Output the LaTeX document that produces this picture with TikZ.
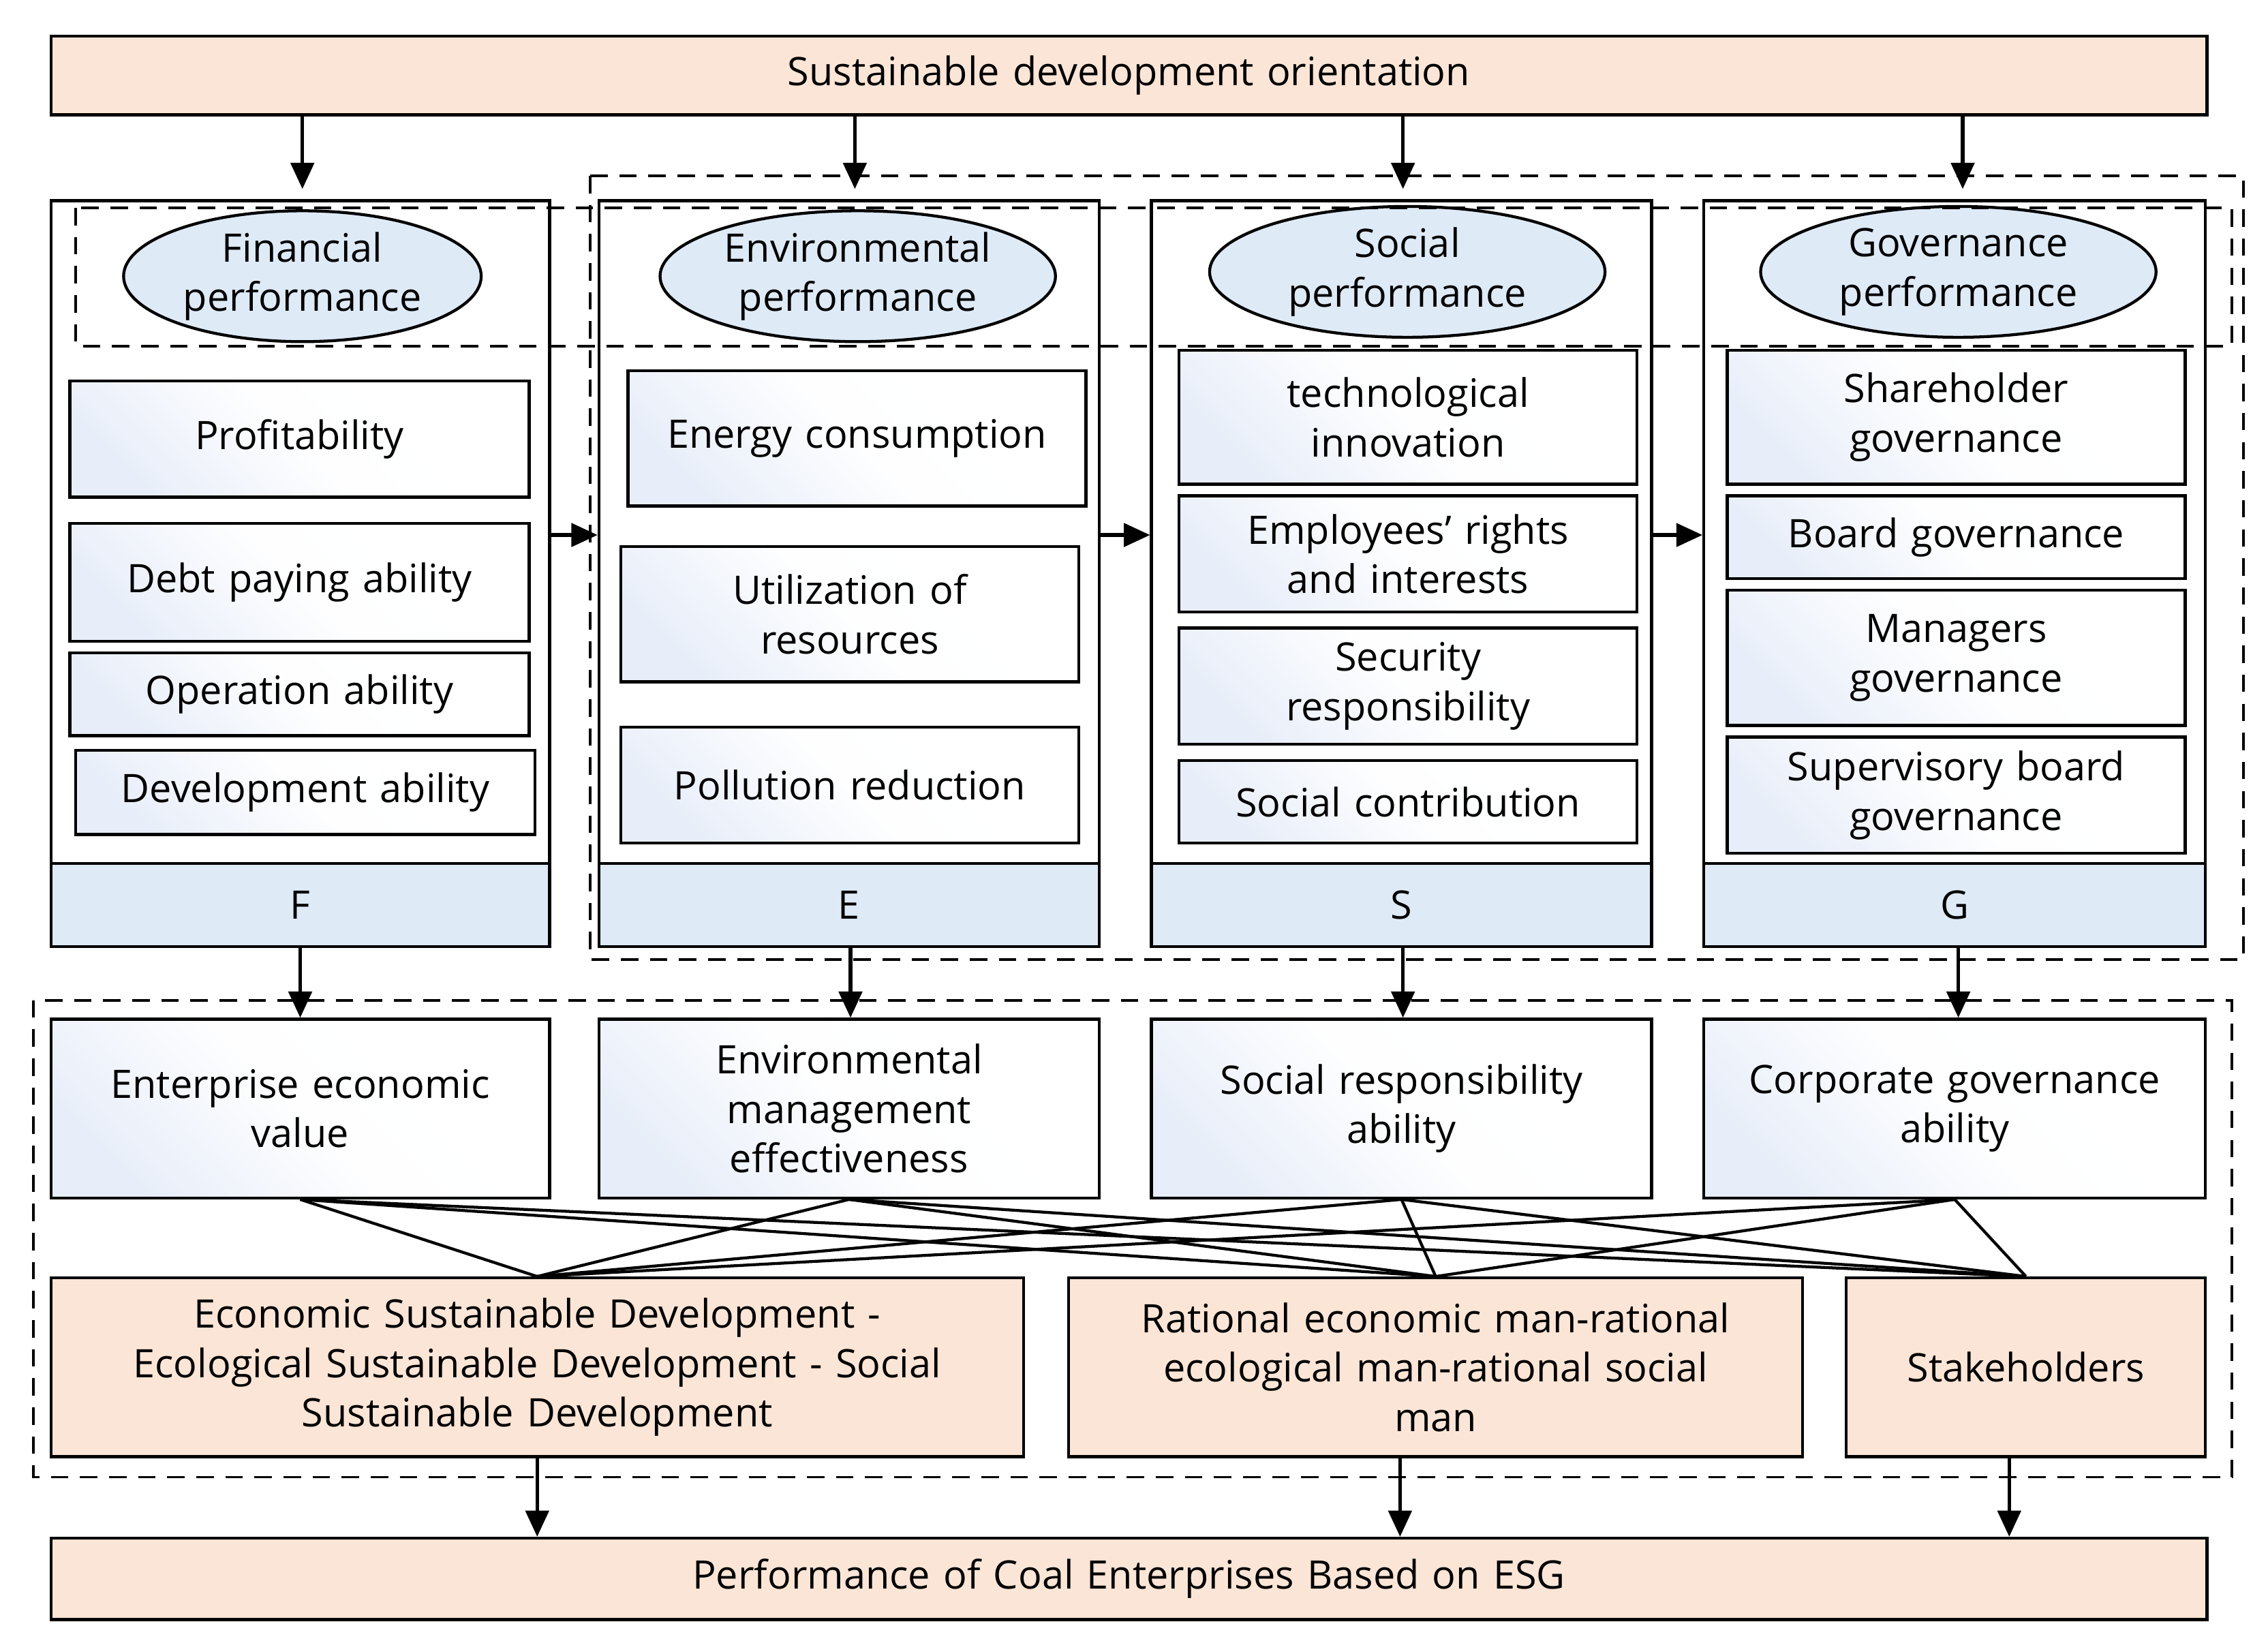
\documentclass[tikz,border=0pt]{standalone}
\usepackage{fontspec}
\setmainfont{Open Sans}
\usetikzlibrary{arrows.meta,shapes.geometric}
\definecolor{peach}{HTML}{FBE5D6}
\definecolor{band}{HTML}{DEEAF6}
\definecolor{grad}{HTML}{E8EEF9}
\tikzset{
  base/.style={draw, line width=1pt, inner sep=2pt, align=center, font=\fontsize{13.5}{17}\selectfont},
  pch/.style={base, fill=peach},
  bnd/.style={base, fill=band},
  gr/.style={base, left color=grad, right color=white, middle color=white!96!grad, shading angle=135},
  col/.style={draw, line width=1pt},
  ell/.style={base, ellipse, fill=band, inner sep=0pt},
  dsh/.style={draw, dashed, line width=0.9pt, dash pattern=on 6pt off 4pt},
  arr/.style={line width=1.2pt, -{Triangle[length=9pt,width=8pt]}},
  ln/.style={line width=1pt}
}
\newcommand{\bx}[7]{\node[#6, minimum width={(#4-#2)*0.5pt}, minimum height={(#5-#3)*0.5pt}, text width={(#4-#2)*0.5pt-10pt}] (#1) at ({(#2+#4)/2},{(#3+#5)/2}) {#7};}
\begin{document}
\begin{tikzpicture}[x=0.5pt,y=-0.5pt]
\useasboundingbox (0,0) rectangle (1560,1127);
% top
\bx{top}{35}{25}{1518}{79}{pch}{Sustainable development orientation}
% columns
\bx{cF}{35}{138}{378}{651}{col}{}
\bx{cE}{412}{138}{756}{651}{col}{}
\bx{cS}{792}{138}{1136}{651}{col}{}
\bx{cG}{1172}{138}{1517}{651}{col}{}
\bx{F}{35}{594}{378}{651}{bnd}{F}
\bx{E}{412}{594}{756}{651}{bnd}{E}
\bx{S}{792}{594}{1136}{651}{bnd}{S}
\bx{G}{1172}{594}{1517}{651}{bnd}{G}
% ellipses
\node[ell, minimum width=123pt, minimum height=45pt] (eF) at (208,190) {Financial\\performance};
\node[ell, minimum width=136pt, minimum height=45pt] (eE) at (590,190) {Environmental\\performance};
\node[ell, minimum width=136pt, minimum height=45pt] (eS) at (968,187) {Social\\performance};
\node[ell, minimum width=136pt, minimum height=45pt] (eG) at (1347,187) {Governance\\performance};
% dashed
\draw[dsh] (52,143) rectangle (1535,238);
\draw[dsh] (406,121) rectangle (1543,660);
\draw[dsh] (23,688) rectangle (1535,1016);
% F boxes
\bx{f1}{48}{262}{364}{342}{gr}{Profitability}
\bx{f2}{48}{360}{364}{441}{gr}{Debt paying ability}
\bx{f3}{48}{449}{364}{506}{gr}{Operation ability}
\bx{f4}{52}{516}{368}{574}{gr}{Development ability}
% E
\bx{e1}{432}{255}{747}{348}{gr}{Energy consumption}
\bx{e2}{427}{376}{742}{469}{gr}{Utilization of\\resources}
\bx{e3}{427}{500}{742}{580}{gr}{Pollution reduction}
% S
\bx{s1}{811}{241}{1126}{333}{gr}{technological\\innovation}
\bx{s2}{811}{341}{1126}{421}{gr}{Employees' rights\\and interests}
\bx{s3}{811}{432}{1126}{512}{gr}{Security\\responsibility}
\bx{s4}{811}{523}{1126}{580}{gr}{Social contribution}
% G
\bx{g1}{1188}{241}{1503}{333}{gr}{Shareholder\\governance}
\bx{g2}{1188}{341}{1503}{398}{gr}{Board governance}
\bx{g3}{1188}{406}{1503}{499}{gr}{Managers\\governance}
\bx{g4}{1188}{507}{1503}{587}{gr}{Supervisory board\\governance}
% outcomes
\bx{oF}{35}{701}{378}{824}{gr}{Enterprise economic\\value}
\bx{oE}{412}{701}{756}{824}{gr}{Environmental\\management\\effectiveness}
\bx{oS}{792}{701}{1136}{824}{gr}{Social responsibility\\ability}
\bx{oG}{1172}{701}{1517}{824}{gr}{Corporate governance\\ability}
% peach
\bx{p1}{35}{879}{704}{1002}{pch}{Economic Sustainable Development -\\Ecological Sustainable Development - Social\\Sustainable Development}
\bx{p2}{735}{879}{1240}{1002}{pch}{Rational economic man-rational\\ecological man-rational social\\man}
\bx{p3}{1270}{879}{1517}{1002}{pch}{Stakeholders}
\bx{bot}{35}{1058}{1518}{1114}{pch}{Performance of Coal Enterprises Based on ESG}
% arrows top
\draw[arr] (top.south -| 208,0) -- (208,130);
\draw[arr] (top.south -| 588,0) -- (588,130);
\draw[arr] (top.south -| 965,0) -- (965,130);
\draw[arr] (top.south -| 1350,0) -- (1350,130);
% horizontal
\draw[arr] (cF.east |- 0,368) -- (cE.west |- 0,368);
\draw[arr] (cE.east |- 0,368) -- (cS.west |- 0,368);
\draw[arr] (cS.east |- 0,368) -- (cG.west |- 0,368);
% down to outcomes
\draw[arr] (F.south) -- (oF.north);
\draw[arr] (E.south -| 585,0) -- (oE.north -| 585,0);
\draw[arr] (S.south -| 965,0) -- (oS.north -| 965,0);
\draw[arr] (G.south -| 1347,0) -- (oG.north -| 1347,0);
% cross lines
\foreach \o in {oF,oE,oS,oG}{
  \foreach \p in {p1,p2,p3}{
    \draw[ln] (\o.south) -- (\p.north);
  }
}
% bottom arrows
\draw[arr] (p1.south) -- (bot.north -| p1.south);
\draw[arr] (p2.south -| 963,0) -- (bot.north -| 963,0);
\draw[arr] (p3.south -| 1382,0) -- (bot.north -| 1382,0);
\end{tikzpicture}
\end{document}
